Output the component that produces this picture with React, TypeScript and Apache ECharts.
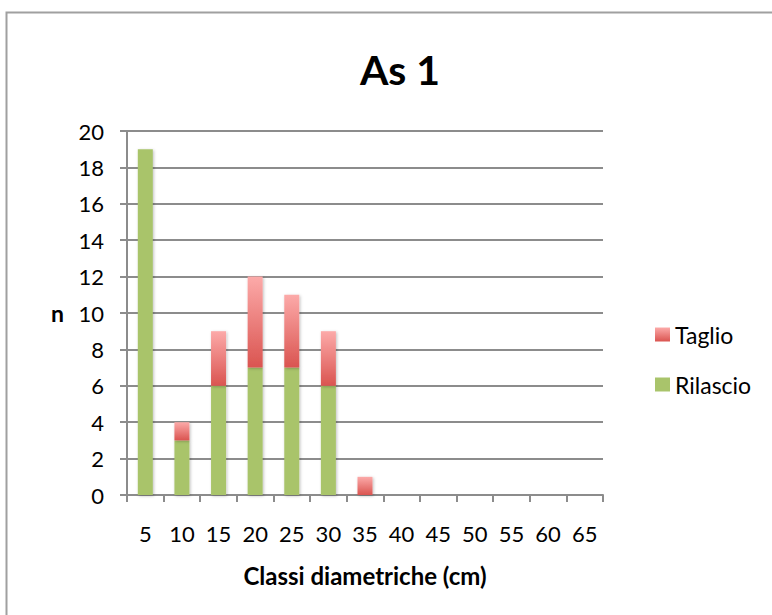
import React, { useEffect, useRef } from "react";
import * as echarts from "echarts";

const categories = ["5", "10", "15", "20", "25", "30", "35", "40", "45", "50", "55", "60", "65"];
const rilascio = [19, 3, 6, 7, 7, 6, 0, 0, 0, 0, 0, 0, 0];
const taglio = [0, 1, 3, 5, 4, 3, 1, 0, 0, 0, 0, 0, 0];
const yTicks = { min: 0, max: 20, interval: 2 };

const FONT = "Lato, 'Open Sans', sans-serif";

export default function App() {
  const ref = useRef<HTMLDivElement>(null);
  useEffect(() => {
    if (!ref.current) return;
    const chart = echarts.init(ref.current, undefined, { renderer: "svg" });
    const redGrad = new echarts.graphic.LinearGradient(0, 0, 0, 1, [
      { offset: 0, color: "#FCAAA9" },
      { offset: 1, color: "#DA5450" },
    ]);
    chart.setOption({
      animation: false,
      backgroundColor: "#ffffff",
      textStyle: { fontFamily: FONT },
      title: {
        text: "As 1",
        left: 395,
        top: 44,
        textAlign: "center",
        textStyle: { fontSize: 41, fontWeight: "bold", color: "#000", fontFamily: FONT },
      },
      legend: {
        orient: "vertical",
        left: 650,
        top: 318,
        itemGap: 27,
        itemWidth: 15,
        itemHeight: 14,
        icon: "rect",
        data: ["Taglio", "Rilascio"],
        textStyle: { fontSize: 23, color: "#000", fontFamily: FONT, padding: [0, 0, 0, 0] },
      },
      graphic: [
        {
          type: "rect",
          shape: { x: 6.5, y: 12.5, width: 900, height: 800 },
          style: { fill: "none", stroke: "#a0a0a0", lineWidth: 2 },
          silent: true,
        },
      ],
      grid: { left: 127, right: 169, top: 131, bottom: 120, containLabel: false },
      xAxis: {
        type: "category",
        data: categories,
        boundaryGap: true,
        name: "Classi diametriche (cm)",
        nameLocation: "middle",
        nameGap: 68,
        nameTextStyle: { fontSize: 24, fontWeight: "bold", color: "#000", fontFamily: FONT },
        axisLine: { lineStyle: { color: "#8c8c8c", width: 2 } },
        axisTick: { show: true, alignWithLabel: false, length: 7, lineStyle: { color: "#8c8c8c", width: 2 } },
        axisLabel: { fontSize: 22, color: "#000", margin: 27, fontFamily: FONT, interval: 0 },
      },
      yAxis: {
        type: "value",
        min: yTicks.min,
        max: yTicks.max,
        interval: yTicks.interval,
        name: "n",
        nameLocation: "middle",
        nameRotate: 0,
        nameGap: 63,
        nameTextStyle: { fontSize: 23, fontWeight: "bold", color: "#000", fontFamily: FONT },
        axisLine: { show: true, lineStyle: { color: "#8c8c8c", width: 2 } },
        axisTick: { show: true, length: 7, lineStyle: { color: "#8c8c8c", width: 2 } },
        axisLabel: { fontSize: 22, color: "#000", margin: 23, fontFamily: FONT },
        splitLine: { show: true, lineStyle: { color: "#8c8c8c", width: 2 } },
      },
      series: [
        {
          name: "Rilascio",
          type: "bar",
          stack: "tot",
          data: rilascio,
          barWidth: 15,
          itemStyle: {
            color: "#A9C46B",
            shadowColor: "rgba(0,0,0,0.25)",
            shadowBlur: 3,
            shadowOffsetX: 1,
            shadowOffsetY: 1,
          },
        },
        {
          name: "Taglio",
          type: "bar",
          stack: "tot",
          data: taglio,
          barWidth: 15,
          itemStyle: {
            color: redGrad,
            shadowColor: "rgba(0,0,0,0.25)",
            shadowBlur: 3,
            shadowOffsetX: 1,
            shadowOffsetY: 1,
          },
        },
      ],
    });
    return () => chart.dispose();
  }, []);
  return (
    <div
      ref={ref}
      style={{ position: "absolute", left: 0, top: 0, width: 772, height: 615 }}
    />
  );
}
